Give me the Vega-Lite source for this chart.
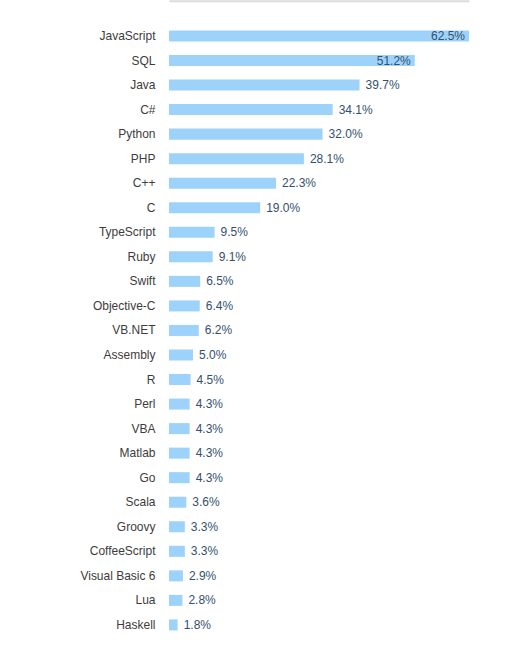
{
  "$schema": "https://vega.github.io/schema/vega-lite/v6.json",
  "autosize": "none",
  "padding": {"left": 169, "top": 23.7, "right": 51, "bottom": 14},
  "width": 300,
  "height": 613.5,
  "background": "white",
  "config": {"view": {"stroke": null}, "font": "Liberation Sans, Arial, sans-serif"},
  "data": {
    "values": [
      {"language": "JavaScript", "share": 0.625},
      {"language": "SQL", "share": 0.512},
      {"language": "Java", "share": 0.397},
      {"language": "C#", "share": 0.341},
      {"language": "Python", "share": 0.320},
      {"language": "PHP", "share": 0.281},
      {"language": "C++", "share": 0.223},
      {"language": "C", "share": 0.190},
      {"language": "TypeScript", "share": 0.095},
      {"language": "Ruby", "share": 0.091},
      {"language": "Swift", "share": 0.065},
      {"language": "Objective-C", "share": 0.064},
      {"language": "VB.NET", "share": 0.062},
      {"language": "Assembly", "share": 0.050},
      {"language": "R", "share": 0.045},
      {"language": "Perl", "share": 0.043},
      {"language": "VBA", "share": 0.043},
      {"language": "Matlab", "share": 0.043},
      {"language": "Go", "share": 0.043},
      {"language": "Scala", "share": 0.036},
      {"language": "Groovy", "share": 0.033},
      {"language": "CoffeeScript", "share": 0.033},
      {"language": "Visual Basic 6", "share": 0.029},
      {"language": "Lua", "share": 0.028},
      {"language": "Haskell", "share": 0.018}
    ]
  },
  "encoding": {
    "y": {
      "field": "language",
      "type": "nominal",
      "sort": null,
      "title": null,
      "scale": {"paddingInner": 0.55, "paddingOuter": 0.275},
      "axis": {
        "ticks": false,
        "domain": false,
        "labelPadding": 14,
        "labelFontSize": 12,
        "labelColor": "#3c3c3c",
        "labelFont": "Liberation Sans"
      }
    },
    "x": {
      "field": "share",
      "type": "quantitative",
      "title": null,
      "scale": {"domain": [0, 0.625], "nice": false, "zero": true},
      "axis": {
        "orient": "top",
        "offset": 23,
        "grid": false,
        "ticks": false,
        "labels": false,
        "domainColor": "#dcdcdc",
        "domainWidth": 2
      }
    }
  },
  "layer": [
    {"mark": {"type": "bar", "color": "#9dd3fb"}},
    {
      "transform": [{"filter": "datum.share > 0.45"}],
      "mark": {"type": "text", "align": "right", "dx": -4, "fontSize": 12, "color": "#34506e", "font": "Liberation Sans"},
      "encoding": {"text": {"field": "share", "type": "quantitative", "format": ".1%"}}
    },
    {
      "transform": [{"filter": "datum.share <= 0.45"}],
      "mark": {"type": "text", "align": "left", "dx": 6, "fontSize": 12, "color": "#34506e", "font": "Liberation Sans"},
      "encoding": {"text": {"field": "share", "type": "quantitative", "format": ".1%"}}
    }
  ]
}
